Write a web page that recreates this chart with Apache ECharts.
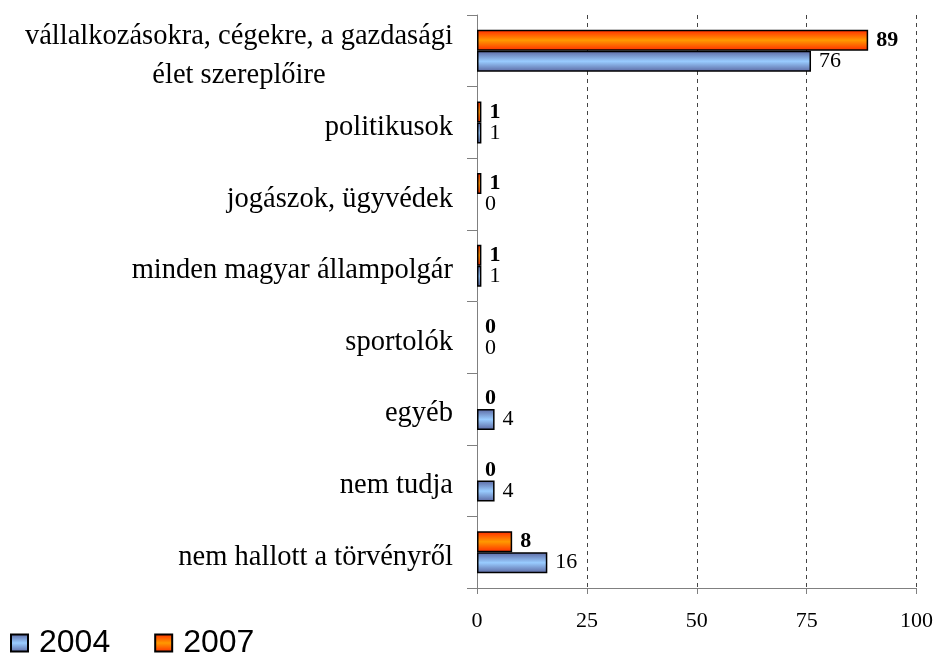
<!DOCTYPE html>
<html>
<head>
<meta charset="utf-8">
<script src="https://cdn.jsdelivr.net/npm/echarts@6/dist/echarts.min.js"></script>
<style>
  html, body { margin: 0; padding: 0; background: #fff; }
  #chart { width: 936px; height: 657px; }
</style>
</head>
<body>
<div id="chart"></div>
<script>
// kategóriák felülről lefelé
var categories = [
  'vállalkozásokra, cégekre, a gazdasági\nélet szereplőire',
  'politikusok',
  'jogászok, ügyvédek',
  'minden magyar állampolgár',
  'sportolók',
  'egyéb',
  'nem tudja',
  'nem hallott a törvényről'
]
var values2004 = [76, 1, 0, 1, 0, 4, 4, 16]
var values2007 = [89, 1, 1, 1, 0, 0, 0, 8]
var xTicks = [0, 25, 50, 75, 100]

var serif = '"Liberation Serif", "Times New Roman", serif'

// vízszintes sávos színátmenet
function stripe(edge, mid) {
  return {
    type: 'linear', x: 0, y: 0, x2: 0, y2: 1,
    colorStops: [
      { offset: 0, color: edge },
      { offset: 0.5, color: mid },
      { offset: 1, color: edge }
    ]
  }
}

// a nulla értékű oszlopnak ne legyen kerete
function barData(values) {
  return values.map(function (v) {
    return v === 0 ? { value: 0, itemStyle: { borderWidth: 0 } } : v
  })
}

var blue = stripe('#5a66a0', '#99ccff')
var orange = stripe('#ff2a00', '#ff9900')

var chart = echarts.init(document.getElementById('chart'))

chart.setOption({
  animation: false,
  grid: { left: 477, right: 17, top: 15, bottom: 69, containLabel: false },
  legend: {
    left: 10,
    top: 627,
    padding: 0,
    itemWidth: 17,
    itemHeight: 17,
    itemGap: 44,
    icon: 'rect',
    data: ['2004', '2007'],
    textStyle: {
      fontFamily: '"Liberation Sans", Arial, sans-serif',
      fontSize: 32,
      color: '#000',
      padding: [0, 0, 0, 6]
    }
  },
  xAxis: {
    type: 'value',
    min: 0,
    max: 100,
    interval: 25,
    axisLine: { show: true, lineStyle: { color: '#808080', width: 1 } },
    axisTick: { show: true, length: 6, lineStyle: { color: '#808080' } },
    axisLabel: {
      margin: 22,
      fontFamily: serif,
      fontSize: 22,
      color: '#000',
      formatter: function (v) { return xTicks.indexOf(v) >= 0 ? String(v) : '' }
    },
    splitLine: { show: true, lineStyle: { color: '#444', type: [4, 4], width: 1 } }
  },
  yAxis: {
    type: 'category',
    inverse: true,
    data: categories,
    axisLine: { show: true, lineStyle: { color: '#808080', width: 1 } },
    axisTick: { show: true, length: 10, lineStyle: { color: '#808080' } },
    axisLabel: {
      margin: 24,
      padding: [10, 0, 0, 0],
      formatter: function (v) {
        return v.split('\n').map(function (s) { return '{c|' + s + '}' }).join('\n')
      },
      rich: {
        c: {
          fontFamily: serif,
          fontSize: 28.5,
          lineHeight: 39,
          color: '#000',
          align: 'center'
        }
      }
    }
  },
  series: [
    {
      name: '2007',
      type: 'bar',
      data: barData(values2007),
      barWidth: 21,
      barGap: '0%',
      itemStyle: { color: orange, borderColor: '#000', borderWidth: 1.5 },
      label: {
        show: true,
        position: 'right',
        distance: 8,
        fontFamily: serif,
        fontSize: 22,
        fontWeight: 'bold',
        color: '#000'
      }
    },
    {
      name: '2004',
      type: 'bar',
      data: barData(values2004),
      barWidth: 21,
      barGap: '0%',
      itemStyle: { color: blue, borderColor: '#000', borderWidth: 1.5 },
      label: {
        show: true,
        position: 'right',
        distance: 8,
        fontFamily: serif,
        fontSize: 22,
        color: '#000'
      }
    }
  ]
})
</script>
</body>
</html>
